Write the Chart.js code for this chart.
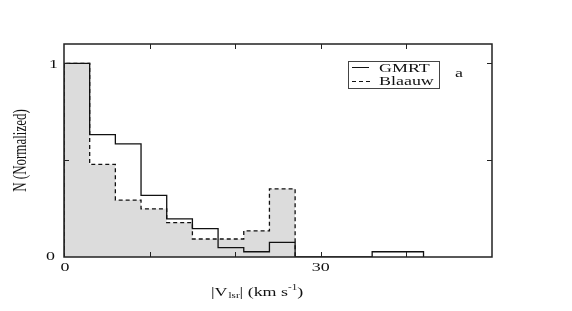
<!DOCTYPE html>
<html>
<head>
<meta charset="utf-8">
<script src="https://cdn.jsdelivr.net/npm/chart.js@4.4.1/dist/chart.umd.min.js"></script>
<style>
  html, body { margin: 0; padding: 0; background: #fff; }
  #wrap { width: 572px; height: 311px; }
</style>
</head>
<body>
<div id="wrap"><canvas id="chart" width="572" height="311"></canvas></div>
<script>
// histogram bins, 3 km/s wide
const gmrtEdges = [0, 3, 6, 9, 12, 15, 18, 21, 24, 27, 30, 33, 36, 39, 42];
const gmrtValues = [1.0, 0.632, 0.584, 0.318, 0.197, 0.147, 0.048, 0.027, 0.076, 0, 0, 0, 0.027, 0.027];
const blaauwEdges = [0, 3, 6, 9, 12, 15, 18, 21, 24, 27];
const blaauwValues = [1.0, 0.478, 0.294, 0.249, 0.178, 0.093, 0.093, 0.135, 0.352];
const xTickLabels = [0, 30];
const yTickLabels = [0, 1];

const SERIF = "'Liberation Serif', 'DejaVu Serif', serif";
const STRETCH = 1.38;

// step-before points: bin value carried to the right edge of its bin
function toSteps(edges, values) {
  const pts = [{ x: edges[0], y: 0 }];
  values.forEach((v, i) => {
    pts.push({ x: edges[i], y: v });
    pts.push({ x: edges[i + 1], y: v });
  });
  pts.push({ x: edges[edges.length - 1], y: 0 });
  return pts;
}

// text drawn horizontally stretched, like the original figure
function stretchText(ctx, text, x, y, size, align, baseline) {
  ctx.save();
  ctx.font = size + "px " + SERIF;
  ctx.textBaseline = baseline || "alphabetic";
  const w = ctx.measureText(text).width * STRETCH;
  let left = x;
  if (align === "center") left = x - w / 2;
  else if (align === "right") left = x - w;
  ctx.translate(left, y);
  ctx.scale(STRETCH, 1);
  ctx.textAlign = "left";
  ctx.fillText(text, 0, 0);
  ctx.restore();
  return w;
}

const framePlugin = {
  id: "frame",
  afterDraw(chart) {
    const ctx = chart.ctx;
    const a = chart.chartArea;
    const xs = chart.scales.x, ys = chart.scales.y;
    ctx.save();
    ctx.strokeStyle = "#222";
    ctx.lineWidth = 1.5;
    ctx.strokeRect(a.left, a.top, a.right - a.left, a.bottom - a.top);

    // inward ticks on all sides
    ctx.lineWidth = 1;
    [10, 20, 30, 40].forEach(v => {
      const px = Math.round(xs.getPixelForValue(v)) + 0.5;
      ctx.beginPath();
      ctx.moveTo(px, a.bottom); ctx.lineTo(px, a.bottom - 5);
      ctx.moveTo(px, a.top); ctx.lineTo(px, a.top + 5);
      ctx.stroke();
    });
    [0.5, 1].forEach(v => {
      const py = Math.round(ys.getPixelForValue(v)) + 0.5;
      ctx.beginPath();
      ctx.moveTo(a.left, py); ctx.lineTo(a.left + 5, py);
      ctx.moveTo(a.right, py); ctx.lineTo(a.right - 5, py);
      ctx.stroke();
    });

    ctx.fillStyle = "#111";
    // tick labels
    xTickLabels.forEach(v => {
      stretchText(ctx, String(v), xs.getPixelForValue(v) + (v === 0 ? 1 : 0), a.bottom + 14, 13, "center");
    });
    yTickLabels.forEach(v => {
      const py = ys.getPixelForValue(v);
      if (v === 0) stretchText(ctx, "0", a.left - 9, py + 3, 13, "right");
      else stretchText(ctx, String(v), a.left - 6, py + 5, 13, "right");
    });

    // x title: |V_lsr| (km s^-1)
    let x = 211, base = 296;
    x += stretchText(ctx, "|V", x, base, 13, "left");
    x += stretchText(ctx, "lsr", x + 1, base + 2, 8, "left") + 1;
    x += stretchText(ctx, "| (km s", x, base, 13, "left");
    x += stretchText(ctx, "-1", x, base - 6, 8, "left");
    stretchText(ctx, ")", x, base, 13, "left");

    // y title, rotated
    ctx.save();
    ctx.translate(26, (a.top + a.bottom) / 2);
    ctx.rotate(-Math.PI / 2);
    ctx.font = "13px " + SERIF;
    ctx.scale(1, STRETCH);
    ctx.textAlign = "center";
    ctx.textBaseline = "alphabetic";
    ctx.fillText("N (Normalized)", 0, 0);
    ctx.restore();

    // legend box
    ctx.strokeStyle = "#444";
    ctx.lineWidth = 1;
    ctx.strokeRect(348.5, 61.5, 91, 27);
    ctx.strokeStyle = "#111";
    ctx.beginPath();
    ctx.moveTo(352, 67.5); ctx.lineTo(369, 67.5);
    ctx.stroke();
    ctx.setLineDash([4, 3]);
    ctx.beginPath();
    ctx.moveTo(352, 81.5); ctx.lineTo(370, 81.5);
    ctx.stroke();
    ctx.setLineDash([]);
    stretchText(ctx, "GMRT", 379, 72, 13, "left");
    stretchText(ctx, "Blaauw", 379, 85, 13, "left");
    stretchText(ctx, "a", 459, 77, 13, "center");
    ctx.restore();
  }
};

const ctx = document.getElementById("chart").getContext("2d");
new Chart(ctx, {
  type: "line",
  data: {
    datasets: [
      {
        label: "Blaauw",
        data: toSteps(blaauwEdges, blaauwValues),
        borderColor: "#111",
        borderWidth: 1.3,
        borderDash: [4, 3],
        backgroundColor: "#dcdcdc",
        fill: "origin",
        pointRadius: 0,
        tension: 0,
        order: 2
      },
      {
        label: "GMRT",
        data: toSteps(gmrtEdges, gmrtValues),
        borderColor: "#111",
        borderWidth: 1.3,
        fill: false,
        pointRadius: 0,
        tension: 0,
        order: 1
      }
    ]
  },
  options: {
    responsive: false,
    animation: false,
    events: [],
    layout: { padding: { top: 44, right: 80, left: 0, bottom: 0 } },
    plugins: { legend: { display: false }, tooltip: { enabled: false } },
    scales: {
      x: {
        type: "linear",
        min: 0,
        max: 50,
        ticks: { display: false, stepSize: 10 },
        grid: { display: false },
        border: { display: false },
        afterFit: s => { s.height = 54; }
      },
      y: {
        min: 0,
        max: 1.1,
        ticks: { display: false, stepSize: 0.5 },
        grid: { display: false },
        border: { display: false },
        afterFit: s => { s.width = 64; }
      }
    }
  },
  plugins: [framePlugin]
});
</script>
</body>
</html>
